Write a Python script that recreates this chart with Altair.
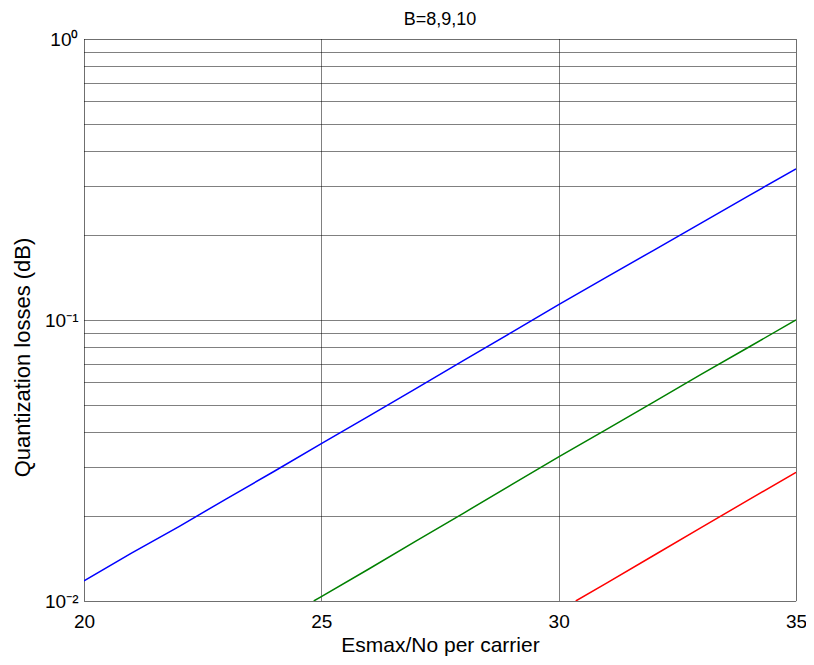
import altair as alt
import pandas as pd

# Es max / No per carrier (dB) and quantization losses (dB)
esno_b8 = [20, 21, 22, 23, 24, 25, 26, 27, 28, 29, 30, 31, 32, 33, 34, 35]
loss_b8 = [0.0118, 0.0148, 0.0184, 0.0231, 0.0289, 0.0363, 0.0455, 0.0571,
           0.0718, 0.0902, 0.1135, 0.1419, 0.177, 0.2213, 0.2767, 0.345]

esno_b9 = [24.84, 25, 26, 27, 28, 29, 30, 31, 32, 33, 34, 35]
loss_b9 = [0.0100, 0.01037, 0.0130, 0.01637, 0.02056, 0.0259, 0.0326,
           0.0407, 0.0510, 0.0640, 0.0800, 0.1000]

esno_b10 = [30.36, 31, 32, 33, 34, 35]
loss_b10 = [0.0100, 0.01156, 0.01452, 0.01824, 0.0229, 0.0287]

series_names = ["B=8", "B=9", "B=10"]
series_colors = ["#0000ff", "#008000", "#ff0000"]

x_ticks = [20, 25, 30, 35]
y_ticks = [0.01, 0.02, 0.03, 0.04, 0.05, 0.06, 0.07, 0.08, 0.09,
           0.1, 0.2, 0.3, 0.4, 0.5, 0.6, 0.7, 0.8, 0.9, 1.0]

rows = []
for name, xs, ys in zip(series_names, [esno_b8, esno_b9, esno_b10],
                        [loss_b8, loss_b9, loss_b10]):
    for i, (xv, yv) in enumerate(zip(xs, ys)):
        rows.append({"series": name, "esno": xv, "loss": yv, "order": i})
df = pd.DataFrame(rows)

FONT = "Liberation Sans"

y_label_expr = ("datum.value == 1 ? '10\u2070' : "
                "(abs(datum.value - 0.1) < 1e-9 ? '10\u207b\u00b9' : "
                "(abs(datum.value - 0.01) < 1e-9 ? '10\u207b\u00b2' : ''))")

chart = alt.Chart(df).mark_line(strokeWidth=1.5, clip=True).encode(
    x=alt.X("esno:Q",
            scale=alt.Scale(domain=[20, 35], nice=False, zero=False),
            axis=alt.Axis(values=x_ticks, grid=True, gridColor="black",
                          gridDash=[1, 1], gridWidth=1, gridOpacity=1,
                          ticks=False, domain=False, labelFont=FONT,
                          labelFontSize=19, labelColor="black",
                          labelPadding=11, labelFlush=False,
                          title="Esmax/No per carrier", titleFont=FONT,
                          titleFontSize=21, titleFontWeight="normal",
                          titleColor="black", titlePadding=3)),
    y=alt.Y("loss:Q",
            scale=alt.Scale(type="log", domain=[0.01, 1], nice=False),
            axis=alt.Axis(values=y_ticks, grid=True, gridColor="black",
                          gridDash=[1, 1], gridWidth=1, gridOpacity=1,
                          ticks=False, domain=False, labelFont=FONT,
                          labelFontSize=19, labelColor="black",
                          labelPadding=6, labelFlush=False,
                          labelExpr=y_label_expr, labelOverlap=False,
                          title="Quantization losses (dB)", titleFont=FONT,
                          titleFontSize=22, titleFontWeight="normal",
                          titleColor="black", titlePadding=10,
                          titleY=318)),
    color=alt.Color("series:N",
                    scale=alt.Scale(domain=series_names, range=series_colors),
                    legend=None),
    order="order:Q",
).properties(
    width=712,
    height=562,
    title=alt.TitleParams("B=8,9,10", font=FONT, fontSize=18,
                          fontWeight="normal", color="black",
                          anchor="middle", offset=1),
    autosize=alt.AutoSizeParams(type="none"),
    padding={"left": 76, "top": 31, "right": 10, "bottom": 55},
).configure_view(
    stroke="black", strokeWidth=1.5, fill="white"
).configure(background="white")

chart.save("out.html", embed_options={"renderer": "svg", "actions": False})
